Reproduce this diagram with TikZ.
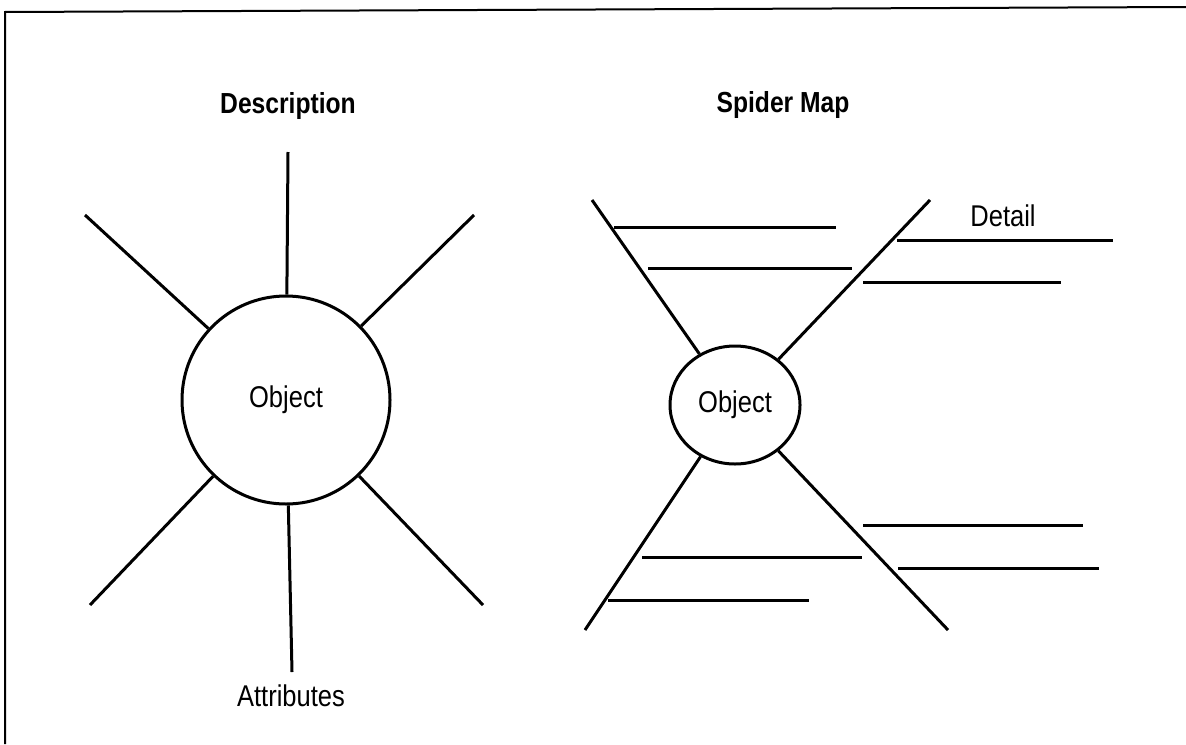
\documentclass[tikz,border=0pt]{standalone}
\usepackage{fontspec}
\setmainfont{Liberation Sans}[FakeStretch=0.85]
\usetikzlibrary{shapes.geometric}
\begin{document}
\begin{tikzpicture}
    [
    x=0.5pt, y=-0.5pt,
    line width=1.5pt,
    title/.style={font=\bfseries\fontsize{14.5}{16}\selectfont},
    label/.style={font=\fontsize{15}{17}\selectfont},
    object/.style={circle,draw,inner sep=0pt,minimum size=104pt,font=\fontsize{15}{17}\selectfont},
    hub/.style={ellipse,draw,inner sep=0pt,minimum width=65pt,minimum height=59pt,font=\fontsize{15}{17}\selectfont}
    ]
    \useasboundingbox (0,0) rectangle (1186,744);
    % frame
    \draw [line width=1pt] (5,744) -- (5,12) -- (1186,7);
    % description
    \node (desc) at (288,106) [title] {Description};
    \node (obj1) at (286,400) [object] {Object};
    \coordinate (n) at (288,152);
    \coordinate (nw) at (85,215);
    \coordinate (ne) at (474,215);
    \coordinate (sw) at (90,605);
    \coordinate (s) at (292,672);
    \coordinate (se) at (483,605);
    \draw (obj1) to (n);
    \draw (obj1) to (nw);
    \draw (obj1) to (ne);
    \draw (obj1) to (sw);
    \draw (obj1) to (s);
    \draw (obj1) to (se);
    \node (attr) at (291,696) [label] {Attributes};
    % spider map
    \node (spider) at (783,105) [title] {Spider Map};
    \node (obj2) at (735,405) [hub] {Object};
    \coordinate (ul) at (592,200);
    \coordinate (ur) at (930,200);
    \coordinate (ll) at (585,630);
    \coordinate (lr) at (948,630);
    \draw (obj2) to (ul);
    \draw (obj2) to (ur);
    \draw (obj2) to (ll);
    \draw (obj2) to (lr);
    \coordinate (ul1) at (614,227);
    \coordinate (ul1e) at (836,227);
    \coordinate (ul2) at (648,268);
    \coordinate (ul2e) at (852,268);
    \coordinate (ur1) at (897,240);
    \coordinate (ur1e) at (1113,240);
    \coordinate (ur2) at (863,282);
    \coordinate (ur2e) at (1061,282);
    \coordinate (ll1) at (642,557);
    \coordinate (ll1e) at (862,557);
    \coordinate (ll2) at (608,600);
    \coordinate (ll2e) at (809,600);
    \coordinate (lr1) at (863,525);
    \coordinate (lr1e) at (1083,525);
    \coordinate (lr2) at (898,568);
    \coordinate (lr2e) at (1099,568);
    \draw (ul1) to (ul1e);
    \draw (ul2) to (ul2e);
    \draw (ur1) to (ur1e);
    \draw (ur2) to (ur2e);
    \draw (ll1) to (ll1e);
    \draw (ll2) to (ll2e);
    \draw (lr1) to (lr1e);
    \draw (lr2) to (lr2e);
    \node (detail) at (1003,216) [label] {Detail};
  \end{tikzpicture}
\end{document}
